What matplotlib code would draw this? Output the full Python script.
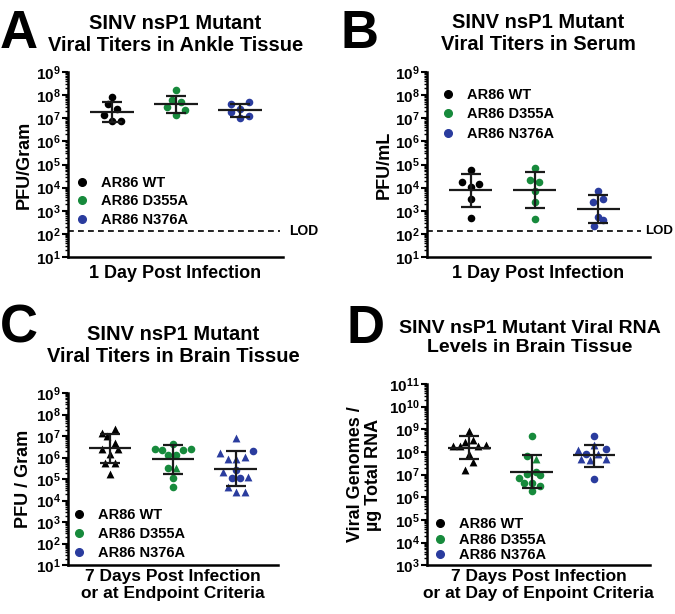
import numpy as np
import matplotlib.pyplot as plt
from matplotlib.lines import Line2D
from matplotlib.ticker import LogLocator, FuncFormatter, NullFormatter

plt.rcParams['font.family'] = 'Liberation Sans'
plt.rcParams['font.weight'] = 'bold'
plt.rcParams['mathtext.fontset'] = 'custom'
plt.rcParams['mathtext.bf'] = 'Liberation Sans:bold'
plt.rcParams['mathtext.rm'] = 'Liberation Sans:bold'
plt.rcParams['mathtext.it'] = 'Liberation Sans:bold:italic'

groups = ["AR86 WT", "AR86 D355A", "AR86 N376A"]
colors = ["black", "#178a3c", "#2a3c9e"]
LOD = 140  # limit of detection, panels A and B

# A: ankle tissue, PFU/gram, 1 dpi
a_wt = [7.93, 7.61, 7.40, 7.14, 6.88, 6.88]
a_wt_dx = [0, -0.07, 0.07, -0.13, 0, 0.14]
a_d355 = [8.22, 7.80, 7.72, 7.47, 7.36, 7.15]
a_d355_dx = [0, -0.07, 0.07, -0.14, 0.14, 0]
a_n376 = [7.61, 7.69, 7.26, 7.40, 7.02, 7.11]
a_n376_dx = [-0.14, 0.14, -0.14, 0, 0, 0.14]
a_mean = [7.28, 7.61, 7.36]
a_lo = [6.85, 7.21, 7.07]
a_hi = [7.71, 7.97, 7.61]

# B: serum, PFU/mL, 1 dpi
b_wt = [4.76, 4.25, 4.14, 4.01, 3.53, 2.67]
b_wt_dx = [0, -0.14, 0.13, 0, 0, 0]
b_d355 = [4.83, 4.32, 4.25, 3.86, 3.39, 2.64]
b_d355_dx = [0, -0.07, 0.07, 0, 0, 0]
b_n376 = [3.86, 3.39, 3.50, 2.74, 2.59, 2.33]
b_n376_dx = [0, -0.08, 0.07, 0, 0.07, -0.07]
b_mean = [3.89, 3.89, 3.07]
b_lo = [3.17, 3.10, 2.45]
b_hi = [4.60, 4.66, 3.68]

# C: brain tissue, PFU/gram, 7 dpi or endpoint
c_wt = [7.31, 7.15, 7.00, 6.69, 6.38, 6.40, 6.15, 5.77, 5.77, 5.23]
c_wt_dx = [0.08, -0.13, -0.05, 0.08, 0.13, -0.13, 0, -0.08, 0.08, 0]
c_wt_mk = "^^^^^^^^^^"
c_d355 = [6.65, 6.42, 6.35, 6.42, 6.33, 6.12, 6.12, 5.51, 5.51, 5.03, 4.62]
c_d355_dx = [0, -0.29, -0.17, 0.28, 0.16, -0.08, 0.05, -0.08, 0.05, 0, 0]
c_d355_mk = "oooooooo^oo"
c_n376 = [6.89, 6.23, 5.95, 5.95, 6.05, 6.30, 5.41, 5.34, 5.05, 5.05, 5.08, 4.64, 4.39, 4.39]
c_n376_dx = [0, -0.25, -0.13, 0, 0.14, 0.27, 0, -0.2, -0.06, 0.07, 0.2, -0.13, 0, 0.14]
c_n376_mk = "^^^^^oo^oo^^^^"
c_mean = [6.43, 5.92, 5.49]
c_lo = [5.77, 5.23, 4.69]
c_hi = [7.11, 6.57, 6.30]

# D: viral genomes / ug total RNA in brain
d_wt = [8.91, 8.55, 8.43, 8.28, 8.25, 8.28, 8.32, 7.93, 7.55, 7.20]
d_wt_dx = [0, 0.06, -0.07, -0.27, -0.15, 0.14, 0.27, 0, 0.06, -0.07]
d_wt_mk = "^^^^^^^^^^"
d_d355 = [8.69, 7.82, 7.67, 7.01, 7.13, 6.98, 6.87, 6.65, 6.65, 6.48, 6.26]
d_d355_dx = [0, -0.07, 0.07, -0.07, 0.07, 0.13, -0.2, -0.13, 0, 0.13, 0]
d_d355_mk = "oo^oooooooo"
d_n376 = [8.72, 8.11, 7.89, 6.80, 8.33, 8.07, 7.70, 7.64, 7.92, 7.67]
d_n376_dx = [0, 0.2, -0.13, 0, 0, -0.26, -0.2, -0.06, 0.07, 0.2]
d_n376_mk = "oooo^^^^^^"
d_mean = [8.18, 7.13, 7.86]
d_lo = [7.70, 6.39, 7.35]
d_hi = [8.69, 7.85, 8.33]


def draw_panel(ax, vals, dxs, mks, means, lows, highs):
    for i in range(3):
        x = i + 1
        for v, d, m in zip(vals[i], dxs[i], mks[i]):
            ax.scatter(x + d, 10 ** v, marker=m, s=30 if m == "o" else 32,
                       color=colors[i], linewidths=0, zorder=3)
        m = 10 ** means[i]
        ax.hlines(m, x - 0.34, x + 0.34, color="#1a1a1a", lw=1.6, zorder=4)
        ax.errorbar(x, m, yerr=[[m - 10 ** lows[i]], [10 ** highs[i] - m]], fmt="none",
                    ecolor="#1a1a1a", elinewidth=1.6, capsize=7.5, capthick=1.6, zorder=4)


def style_axis(ax, ylo, yhi, xlim):
    ax.set_yscale("log")
    ax.set_ylim(10 ** ylo, 10 ** yhi)
    ax.set_xlim(*xlim)
    ax.set_xticks([])
    ax.yaxis.set_major_locator(LogLocator(base=10, numticks=20))
    ax.yaxis.set_minor_locator(LogLocator(base=10, subs=np.arange(2, 10), numticks=20))
    ax.yaxis.set_minor_formatter(NullFormatter())
    ax.yaxis.set_major_formatter(FuncFormatter(lambda v, p: r"$\mathbf{10^{%d}}$" % round(np.log10(v))))
    for s in ["top", "right"]:
        ax.spines[s].set_visible(False)
    for s in ["left", "bottom"]:
        ax.spines[s].set_linewidth(1.8)
    ax.tick_params(axis="y", which="major", length=4, width=1.5, labelsize=11, pad=1)
    ax.tick_params(axis="y", which="minor", length=2, width=1)


def add_legend(ax, anchor, spacing):
    handles = [Line2D([], [], marker="o", ls="", color=c, markersize=5.5) for c in colors]
    ax.legend(handles, groups, loc="upper left", bbox_to_anchor=anchor, frameon=False,
              handlelength=0.6, handletextpad=1.0, labelspacing=spacing, borderpad=0,
              borderaxespad=0, prop={"weight": "bold", "size": 10.5})


fig = plt.figure(figsize=(6.75, 6.14), dpi=100)
axA = fig.add_axes([0.1007, 0.5814, 0.3185, 0.3013])
axB = fig.add_axes([0.6326, 0.5814, 0.3304, 0.3013])
axC = fig.add_axes([0.1007, 0.0795, 0.3111, 0.2804])
axD = fig.add_axes([0.6326, 0.0795, 0.3304, 0.2950])

draw_panel(axA, [a_wt, a_d355, a_n376], [a_wt_dx, a_d355_dx, a_n376_dx],
           ["o" * 6] * 3, a_mean, a_lo, a_hi)
draw_panel(axB, [b_wt, b_d355, b_n376], [b_wt_dx, b_d355_dx, b_n376_dx],
           ["o" * 6] * 3, b_mean, b_lo, b_hi)
draw_panel(axC, [c_wt, c_d355, c_n376], [c_wt_dx, c_d355_dx, c_n376_dx],
           [c_wt_mk, c_d355_mk, c_n376_mk], c_mean, c_lo, c_hi)
draw_panel(axD, [d_wt, d_d355, d_n376], [d_wt_dx, d_d355_dx, d_n376_dx],
           [d_wt_mk, d_d355_mk, d_n376_mk], d_mean, d_lo, d_hi)

style_axis(axA, 1, 9, (0.31, 3.67))
style_axis(axB, 1, 9, (0.314, 3.81))
style_axis(axC, 1, 9, (0.33, 3.67))
style_axis(axD, 3, 11, (0.32, 3.90))

# LOD lines
axA.plot([0, 0.985], [LOD, LOD], transform=axA.get_yaxis_transform(), color="black",
         lw=1.2, ls=(0, (3.5, 2.5)), zorder=2, clip_on=False)
axA.text(1.03, LOD, "LOD", transform=axA.get_yaxis_transform(), ha="left", va="center",
         fontsize=10, fontweight="bold")
axB.plot([0, 0.96], [LOD, LOD], transform=axB.get_yaxis_transform(), color="black",
         lw=1.2, ls=(0, (3.5, 2.5)), zorder=2, clip_on=False)
axB.text(0.98, LOD, "LOD", transform=axB.get_yaxis_transform(), ha="left", va="center",
         fontsize=9.5, fontweight="bold")

add_legend(axA, (0.045, 0.44), 0.33)
add_legend(axB, (0.075, 0.915), 0.38)
add_legend(axC, (0.03, 0.33), 0.33)
add_legend(axD, (0.04, 0.265), 0.1)

title_kw = dict(fontsize=14.5, fontweight="bold", linespacing=1.2)
axA.set_title("SINV nsP1 Mutant\nViral Titers in Ankle Tissue", pad=15, **title_kw)
axB.set_title("SINV nsP1 Mutant\nViral Titers in Serum", pad=16, **title_kw)
axC.set_title("SINV nsP1 Mutant\nViral Titers in Brain Tissue", pad=22, **title_kw)
axD.set_title("SINV nsP1 Mutant Viral RNA\nLevels in Brain Tissue", pad=23, x=0.46,
              fontsize=14, fontweight="bold", linespacing=1.2)

axA.set_xlabel("1 Day Post Infection", fontsize=13, fontweight="bold", labelpad=6)
axB.set_xlabel("1 Day Post Infection", fontsize=13, fontweight="bold", labelpad=6)
axC.set_xlabel("7 Days Post Infection\nor at Endpoint Criteria", fontsize=12.5,
               fontweight="bold", labelpad=3, linespacing=1.12)
axD.set_xlabel("7 Days Post Infection\nor at Day of Enpoint Criteria", fontsize=12.5,
               fontweight="bold", labelpad=3, linespacing=1.12)

axA.set_ylabel("PFU/Gram", fontsize=13, fontweight="bold")
axB.set_ylabel("PFU/mL", fontsize=13, fontweight="bold")
axC.set_ylabel("PFU / Gram", fontsize=13, fontweight="bold")
axD.set_ylabel("Viral Genomes /\n\u00b5g Total RNA", fontsize=13, fontweight="bold",
               linespacing=1.1)
axA.yaxis.set_label_coords(-0.165, 0.5)
axB.yaxis.set_label_coords(-0.155, 0.5)
axC.yaxis.set_label_coords(-0.17, 0.5)
axD.yaxis.set_label_coords(-0.2, 0.5)

# panel letters
for lx, ly, letter in [(0.0, 0.985, "A"), (0.505, 0.985, "B"), (0.0, 0.505, "C"), (0.513, 0.505, "D")]:
    fig.text(lx, ly, letter, fontsize=38, fontweight="bold", ha="left", va="top")

fig.savefig("out.png", dpi=100)
